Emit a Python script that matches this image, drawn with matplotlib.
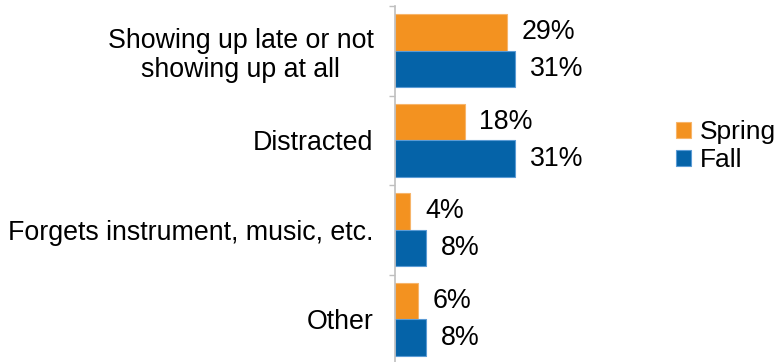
import matplotlib.pyplot as plt
import numpy as np

plt.rcParams['font.family'] = ['Liberation Sans', 'DejaVu Sans']

categories = ['Showing up late or not\nshowing up at all', 'Distracted',
              'Forgets instrument, music, etc.', 'Other']
spring = [29, 18, 4, 6]
fall = [31, 31, 8, 8]
series_names = ['Spring', 'Fall']
COLORS = ['#F39220', '#0563A8']
EDGES = ['#F7B56A', '#5B9BD5']

fig = plt.figure(figsize=(7.78, 3.62), dpi=100)
ax = fig.add_axes([395 / 778, -2 / 362, 255 / 778, 358 / 362])

y = np.arange(len(categories))
h = 0.41
for i, (vals, name) in enumerate(zip([spring, fall], series_names)):
    pos = y - h / 2 + i * h
    ax.barh(pos, vals, height=h, color=COLORS[i], edgecolor=EDGES[i],
            linewidth=0.8, label=name)
    for yy, v in zip(pos, vals):
        ax.annotate(f'{v}%', (v, yy), xytext=(10.5, 0), textcoords='offset points',
                    ha='left', va='center', fontsize=19.3)

ax.set_ylim(len(categories) - 0.5, -0.5)
ax.set_xlim(0, 255 / 3.87)
ax.set_yticks(np.arange(len(categories) + 1) - 0.5)
ax.set_yticklabels([])
ax.set_yticks(y, minor=True)
ax.set_yticklabels(categories, minor=True, fontsize=19.3, linespacing=1.15)
ax.tick_params(axis='y', which='minor', length=0, pad=15.5)
ax.tick_params(axis='y', which='major', length=4, color='#BFBFBF', width=1)
ax.set_xticks([])
for s in ['top', 'right', 'bottom']:
    ax.spines[s].set_visible(False)
ax.spines['left'].set_color('#BFBFBF')
ax.spines['left'].set_linewidth(1.2)
for lbl in ax.get_yticklabels(minor=True):
    lbl.set_horizontalalignment('right')
    lbl.set_multialignment('center')

fig.legend(loc='center left', bbox_to_anchor=(676 / 778, 1 - 146 / 362),
           frameon=False, fontsize=19, handlelength=0.55, handleheight=0.55,
           handletextpad=0.35, labelspacing=0.15, borderpad=0, borderaxespad=0)

plt.savefig('out.png', dpi=100)
